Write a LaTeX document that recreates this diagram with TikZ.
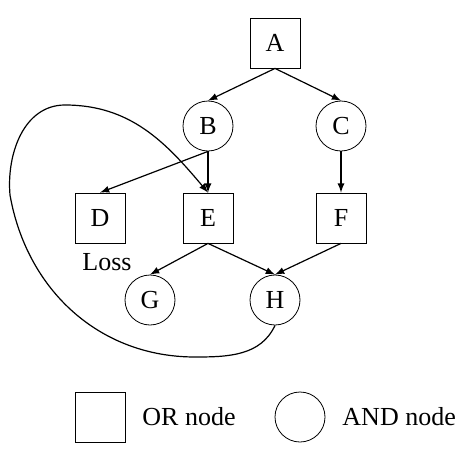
\documentclass[tikz,border=0pt]{standalone}
\usepackage{fontspec}
\setmainfont{Liberation Serif}
\usetikzlibrary{arrows,positioning}

\begin{document}
\begin{tikzpicture}[x=0.5pt,y=-0.5pt]
\tikzset{ornode/.style={draw,rectangle,minimum size=25pt,inner sep=0pt}}
\tikzset{andnode/.style={draw,circle,minimum size=25pt,inner sep=0pt}}
\tikzset{every node/.style={font=\fontsize{13}{15}\selectfont}}
\tikzset{link/.style={draw,->,>=latex,semithick}}
\useasboundingbox (0,0) rectangle (461,450);
% tree
\node[ornode] (A) at (275,43) {A};
\node[andnode] (B) at (208,126) {B};
\node[andnode] (C) at (341,126) {C};
\node[ornode] (D) at (100,218) {D};
\node[ornode] (E) at (208,218) {E};
\node[ornode] (F) at (341,218) {F};
\node[andnode] (G) at (150,300) {G};
\node[andnode] (H) at (275,300) {H};
\node (loss) at (107,262) {Loss};
\path[link] (A.south) -- (B.north);
\path[link] (A.south) -- (C.north);
\path[link] (B.south) -- (D.north);
\path[link] (B.south) -- (E.north);
\path[link] (C.south) -- (F.north);
\path[link] (E.south) -- (G.north);
\path[link] (E.south) -- (H.north);
\path[link] (F.south) -- (H.north);
% loop back from H
\coordinate (low) at (195,357);
\coordinate (left) at (10,195);
\coordinate (top) at (65,105);
\path[link] (H.south) to[out=-115,in=0] (low)
  to[out=180,in=-80] (left)
  to[out=95,in=180] (top)
  to[out=0,in=130] (E.north);
% legend
\node[ornode] (orkey) at (100,417) {};
\node[right=5pt of orkey] (ortext) {OR node};
\node[andnode] (andkey) at (300,417) {};
\node[right=5pt of andkey] (andtext) {AND node};
\end{tikzpicture}
\end{document}
